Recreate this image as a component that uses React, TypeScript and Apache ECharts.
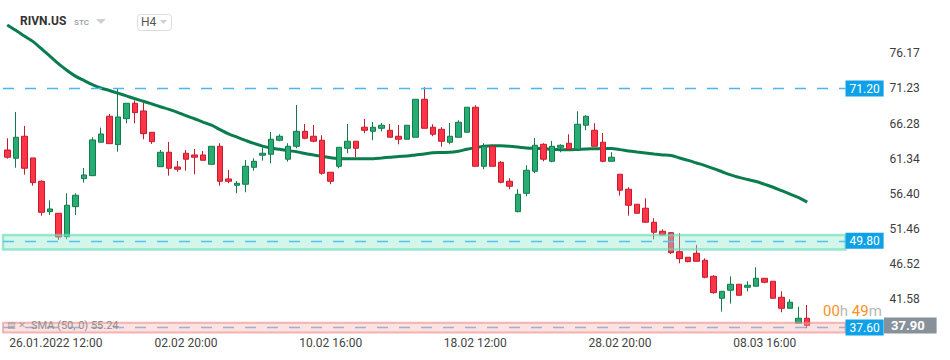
import React, { useEffect, useRef } from 'react';
import * as echarts from 'echarts';

// ---------- data ----------
const tradingDays = [
  '24.01', '25.01', '26.01', '27.01', '28.01', '31.01', '01.02', '02.02', '03.02', '04.02',
  '07.02', '08.02', '09.02', '10.02', '11.02', '14.02', '15.02', '16.02', '17.02', '18.02',
  '22.02', '23.02', '24.02', '25.02', '28.02', '01.03', '02.03', '03.03', '04.03', '07.03',
  '08.03', '09.03', '10.03',
];
const sessions = ['12:00', '16:00', '20:00'];
const futureSlots = ['10.03 16:00', '10.03 20:00', '11.03 12:00', '11.03 16:00'];

const opens = [
  62.57, 61.41, 64.50, 61.45, 58.17, 53.90, 53.67, 50.38, 54.60, 58.54,
  58.96, 63.66, 67.31, 63.32, 66.97, 69.14, 68.06, 65.06, 60.22, 62.25,
  60.18, 62.11, 61.87, 61.87, 60.56, 63.09, 58.50, 57.61, 57.75, 60.14,
  61.83, 61.97, 63.94, 61.27, 63.09, 65.20, 64.50, 63.94, 59.44, 60.28,
  62.81, 63.80, 65.77, 65.20, 65.62, 65.34, 64.50, 64.08, 64.36, 69.70,
  65.77, 65.48, 63.66, 64.36, 65.06, 68.58, 60.28, 63.09, 60.84, 58.17,
  53.90, 56.48, 59.58, 63.37, 60.98, 62.95, 63.52, 62.67, 66.05, 65.34,
  63.66, 60.98, 59.16, 57.05, 54.94, 54.38, 52.41, 51.14, 50.94, 48.27,
  47.49, 48.05, 47.06, 44.81, 41.72, 42.85, 43.69, 43.27, 43.41, 44.53,
  44.11, 41.86, 40.31, 38.21, 38.91,
];
const closes = [
  61.55, 64.36, 60.00, 57.98, 53.81, 54.28, 50.34, 54.80, 56.20, 59.06,
  63.98, 64.82, 63.46, 67.21, 69.14, 67.82, 64.87, 63.74, 62.25, 60.00,
  59.86, 61.27, 61.55, 61.12, 63.09, 58.17, 58.17, 57.89, 60.28, 60.98,
  62.11, 64.08, 64.50, 63.09, 65.20, 64.22, 63.80, 59.30, 58.17, 62.95,
  63.80, 62.81, 65.34, 65.77, 66.05, 64.36, 64.08, 66.05, 69.70, 65.62,
  64.78, 63.80, 64.50, 66.47, 68.58, 60.28, 63.09, 60.28, 58.03, 57.47,
  56.34, 59.72, 63.23, 61.27, 63.09, 63.23, 62.67, 66.19, 67.31, 63.09,
  60.98, 61.55, 56.91, 54.80, 53.67, 52.41, 51.00, 50.62, 48.13, 47.29,
  46.87, 46.92, 44.67, 42.51, 42.70, 43.69, 42.14, 43.55, 44.53, 43.97,
  41.72, 40.31, 41.16, 38.91, 37.90,
];
const lows = [
  61.35, 60.08, 59.10, 57.55, 53.33, 53.43, 49.92, 50.02, 53.43, 57.98,
  58.96, 63.66, 63.46, 62.33, 66.33, 66.33, 64.08, 63.42, 60.22, 58.96,
  59.52, 59.66, 59.16, 61.12, 60.56, 57.55, 57.89, 56.48, 56.63, 59.66,
  61.07, 60.70, 63.80, 60.93, 62.81, 64.08, 63.66, 59.10, 57.75, 60.00,
  62.11, 61.55, 64.92, 63.94, 65.20, 64.36, 63.37, 64.08, 64.36, 65.62,
  64.50, 63.04, 63.37, 64.36, 65.06, 60.28, 59.86, 60.28, 57.89, 57.05,
  53.81, 56.06, 59.30, 60.98, 60.84, 62.25, 62.67, 62.67, 65.34, 63.09,
  60.84, 60.98, 56.15, 53.33, 53.67, 52.41, 50.02, 50.55, 47.95, 46.64,
  46.78, 46.92, 44.53, 42.37, 39.84, 40.96, 42.14, 42.70, 43.41, 43.83,
  41.72, 39.75, 40.31, 38.21, 37.50,
];
const highs = [
  64.22, 67.92, 65.95, 61.45, 58.31, 55.50, 53.67, 56.48, 56.48, 60.04,
  64.36, 65.71, 67.63, 71.20, 69.14, 69.51, 69.22, 65.06, 62.57, 63.70,
  61.03, 62.57, 62.71, 62.43, 63.09, 63.52, 59.76, 58.21, 61.17, 61.41,
  62.95, 65.10, 64.78, 63.52, 68.90, 66.23, 66.09, 64.64, 59.44, 62.95,
  66.23, 63.80, 66.93, 66.51, 66.37, 66.23, 66.09, 66.05, 69.70, 71.39,
  66.19, 65.77, 66.37, 66.75, 68.58, 68.86, 63.52, 63.09, 60.98, 58.59,
  57.05, 60.42, 64.26, 63.52, 63.84, 63.37, 64.78, 68.01, 67.45, 66.33,
  64.96, 62.25, 59.16, 57.33, 54.94, 55.78, 52.97, 51.42, 51.00, 50.86,
  47.49, 49.22, 47.34, 44.95, 42.70, 44.81, 43.69, 44.11, 46.08, 44.53,
  44.11, 42.70, 41.58, 40.54, 40.78,
];
const sma50 = [
  80.15, 79.40, 78.60, 77.84, 76.83, 75.78, 74.72, 73.79, 72.96, 72.35,
  71.77, 71.29, 70.94, 70.56, 70.17, 69.77, 69.42, 69.04, 68.65, 68.28,
  67.87, 67.40, 66.96, 66.50, 66.05, 65.43, 64.82, 64.37, 63.92, 63.49,
  63.12, 62.85, 62.66, 62.47, 62.32, 62.07, 61.87, 61.67, 61.48, 61.38,
  61.35, 61.35, 61.35, 61.35, 61.45, 61.56, 61.67, 61.72, 61.87, 62.01,
  62.18, 62.22, 62.24, 62.40, 62.67, 62.90, 63.11, 63.16, 63.15, 63.09,
  62.98, 62.85, 62.80, 62.74, 62.67, 62.62, 62.59, 62.64, 62.71, 62.74,
  62.78, 62.77, 62.62, 62.43, 62.28, 62.14, 62.00, 61.88, 61.79, 61.45,
  61.11, 60.74, 60.38, 59.96, 59.51, 59.06, 58.72, 58.42, 58.13, 57.74,
  57.33, 56.85, 56.37, 55.88, 55.24,
];

const yTicks = [41.58, 46.52, 51.46, 56.40, 61.34, 66.28, 71.23, 76.17];
const tickDates = ['26.01 12:00', '02.02 20:00', '10.02 16:00', '18.02 12:00', '28.02 20:00', '08.03 16:00'];
const tickTexts = ['26.01.2022 12:00', '02.02 20:00', '10.02 16:00', '18.02 12:00', '28.02 20:00', '08.03 16:00'];

const levels = [71.20, 49.80, 37.60];
const zone4980 = [48.58, 50.62];
const zone3760 = [36.90, 38.29];

// ---------- derived ----------
const allSlots: string[] = [];
tradingDays.forEach((d) => sessions.forEach((s) => allSlots.push(d + ' ' + s)));
const candleSlots = allSlots.slice(2, 2 + opens.length);
const categories = candleSlots.concat(futureSlots);
const candles = opens.map((o, i) => [o, closes[i], lows[i], highs[i]]);
const lastPrice = closes[closes.length - 1];

const yInterval = 4.9409;
const yMin = yTicks[0] - yInterval;
const yMax = 83.66;

const FONT = 'Roboto, "DejaVu Sans", sans-serif';

const tagLabel = (bg: string, distance: number, extra: any = {}) => ({
  show: true,
  position: 'end',
  distance,
  color: '#fff',
  backgroundColor: bg,
  padding: [2, 4, 2, 4],
  fontSize: 12,
  lineHeight: 12,
  fontFamily: FONT,
  formatter: (p: any) => Number(p.value).toFixed(2),
  ...extra,
});

export default function App() {
  const ref = useRef<HTMLDivElement>(null);
  useEffect(() => {
    const chart = echarts.init(ref.current!, null, { renderer: 'svg' });
    chart.setOption({
      animation: false,
      backgroundColor: '#ffffff',
      textStyle: { fontFamily: FONT },
      grid: { left: 3, right: 104.5, top: 0, bottom: 25.6, containLabel: false },
      xAxis: {
        type: 'category',
        data: categories,
        boundaryGap: true,
        axisLine: { show: false },
        axisTick: { show: false },
        splitLine: { show: false },
        axisLabel: {
          interval: (_i: number, v: string) => tickDates.indexOf(v) >= 0,
          margin: 3,
          color: '#444',
          fontSize: 12,
          fontFamily: FONT,
          formatter: (v: string) => {
            const k = tickDates.indexOf(v);
            if (k < 0) return '';
            if (k === 0) return '{f|' + tickTexts[0] + '}';
            return tickTexts[k];
          },
          rich: {
            f: { padding: [0, 0, 0, 29], color: '#444', fontSize: 12, fontFamily: FONT },
          },
        },
      },
      yAxis: {
        type: 'value',
        position: 'right',
        min: yMin,
        max: yMax,
        interval: yInterval,
        axisLine: { show: false },
        axisTick: { show: false },
        splitLine: { show: false },
        axisLabel: {
          margin: 44,
          color: '#3d3d3d',
          fontSize: 12,
          fontFamily: FONT,
          formatter: (v: number) => {
            const t = yTicks.find((t) => Math.abs(t - v) < 0.03);
            return t === undefined ? '' : t.toFixed(2);
          },
        },
      },
      series: [
        {
          type: 'candlestick',
          data: candles,
          barWidth: 6,
          itemStyle: {
            color: '#27ad73',
            color0: '#ff3447',
            borderColor: '#157a4b',
            borderColor0: '#c41c2d',
            borderWidth: 1,
          },
          markArea: {
            silent: true,
            z: 3,
            data: [
              [
                {
                  yAxis: zone4980[0],
                  itemStyle: {
                    color: 'rgba(142,232,202,0.4)',
                    borderColor: 'rgba(107,218,185,0.65)',
                    borderWidth: 2.5,
                  },
                },
                { yAxis: zone4980[1] },
              ],
              [
                {
                  yAxis: zone3760[0],
                  itemStyle: {
                    color: 'rgba(250,182,182,0.4)',
                    borderColor: 'rgba(237,137,137,0.6)',
                    borderWidth: 2,
                  },
                },
                { yAxis: zone3760[1] },
              ],
            ],
          },
          markLine: {
            silent: true,
            symbol: ['none', 'none'],
            data: [
              {
                yAxis: levels[0],
                lineStyle: { color: '#4cb7ec', type: [11, 11], width: 1.3 },
                label: tagLabel('#0ea1e8', 0),
              },
              {
                yAxis: levels[1],
                lineStyle: { color: '#56c1ee', type: [11, 11], width: 1.3 },
                label: tagLabel('#0ea1e8', 0),
              },
              {
                yAxis: levels[2],
                lineStyle: { color: '#9db3c9', type: [11, 11], width: 1.3 },
                label: tagLabel('#0ea1e8', 0),
              },
              {
                yAxis: lastPrice,
                lineStyle: { color: 'rgba(0,0,0,0)', width: 0 },
                label: tagLabel('#87919a', 38.5, {
                  fontSize: 13,
                  fontWeight: 'bold',
                  lineHeight: 12,
                  padding: [2, 12, 2, 7],
                }),
              },
            ],
          },
        },
        {
          type: 'line',
          data: sma50,
          showSymbol: false,
          smooth: 0.3,
          lineStyle: { color: '#0a7d4f', width: 3 },
          z: 2,
        },
      ],
      graphic: [
        {
          type: 'text',
          left: 20,
          top: 15,
          z: 20,
          style: { text: 'RIVN.US', font: 'bold 12px ' + FONT, fill: '#333' },
        },
        {
          type: 'text',
          left: 74,
          top: 18,
          z: 20,
          style: { text: 'STC', font: '600 8px ' + FONT, fill: '#9aa3ab' },
        },
        {
          type: 'polygon',
          z: 20,
          shape: { points: [[96, 19], [106, 19], [101, 24]] },
          style: { fill: '#cfcfcf' },
        },
        {
          type: 'rect',
          z: 20,
          shape: { x: 137.5, y: 14.5, width: 34, height: 16, r: 3 },
          style: { fill: '#fff', stroke: '#dcdcdc', lineWidth: 1 },
        },
        {
          type: 'text',
          left: 141,
          top: 16,
          z: 21,
          style: { text: 'H4', font: '12px ' + FONT, fill: '#555' },
        },
        {
          type: 'polygon',
          z: 21,
          shape: { points: [[160, 20], [167, 20], [163.5, 24]] },
          style: { fill: '#cfcfcf' },
        },
        {
          type: 'text',
          left: 823,
          top: 303,
          z: 20,
          style: {
            text: '{o|00}{g|h} {o|49}{g|m}',
            font: '15px ' + FONT,
            lineHeight: 16,
            rich: {
              o: { fill: '#f7941d', font: '15px ' + FONT, lineHeight: 16 },
              g: { fill: '#b8b8b8', font: '15px ' + FONT, lineHeight: 16 },
            },
          },
        },
        {
          type: 'text',
          left: 7,
          top: 320,
          z: 20,
          style: { text: '▤ ✕', font: '9px "DejaVu Sans", sans-serif', fill: '#9a9a9a' },
        },
        {
          type: 'text',
          left: 31,
          top: 320,
          z: 20,
          style: { text: 'SMA (50, 0) ' + sma50[sma50.length - 1].toFixed(2), font: '11px ' + FONT, fill: '#8f8f8f' },
        },
      ],
    });
    return () => chart.dispose();
  }, []);
  return (
    <div
      ref={ref}
      style={{ position: 'fixed', left: 0, top: 0, width: 950, height: 360, background: '#fff' }}
    />
  );
}
